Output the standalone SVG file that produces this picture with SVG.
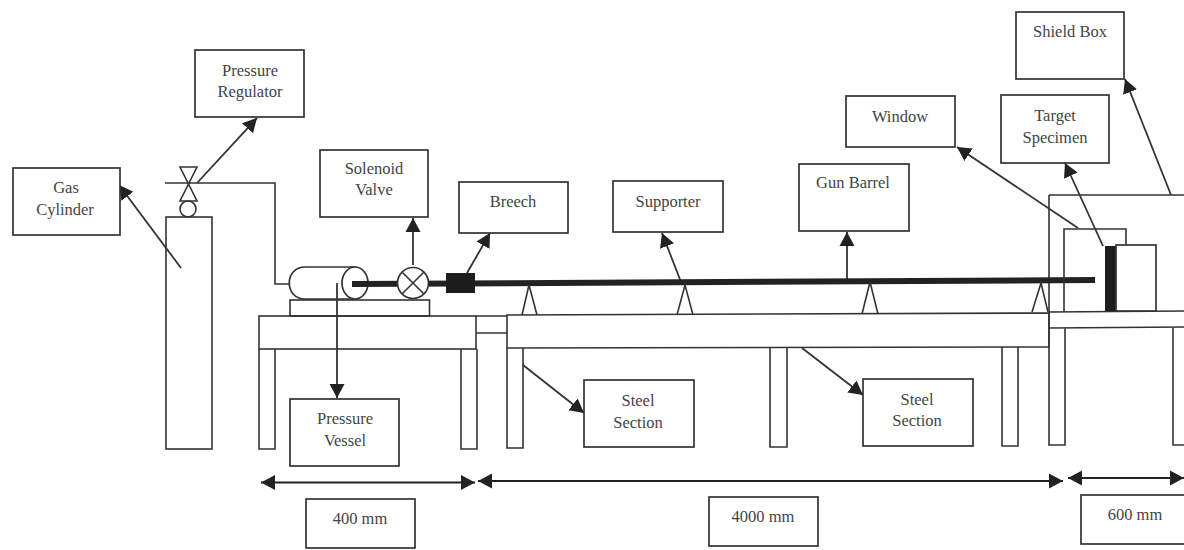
<svg xmlns="http://www.w3.org/2000/svg" width="1184" height="550" viewBox="0 0 1184 550">
<defs>
<marker id="a" markerUnits="userSpaceOnUse" markerWidth="15" markerHeight="16" refX="14" refY="8" orient="auto-start-reverse"><path d="M0 0.500L14 8L0 15.500Z" fill="#222"/></marker>
</defs>
<style>
.b{fill:#fff;stroke:#333;stroke-width:1.7}
.s{fill:none;stroke:#333;stroke-width:1.6}
.c{fill:none;stroke:#333;stroke-width:1.8}
.ar{marker-end:url(#a)}
.d{marker-start:url(#a);marker-end:url(#a);stroke:#222;stroke-width:2;fill:none}
text{font-family:"Liberation Serif",serif;font-size:16.500px;fill:#444;text-anchor:middle}
</style>
<rect width="1184" height="550" fill="#fff"/>
<g id="cylinder">
<rect class="s" x="166" y="217" width="46" height="232"/>
<circle class="s" cx="188" cy="209" r="8"/>
<path class="s" d="M180 167H197L180 201H197Z"/>
</g>
<g id="tables">
<rect class="s" x="259" y="316" width="217" height="33"/>
<path class="s" d="M259 349V449H275V349M461 349V449H477V349"/>
<path class="s" d="M476 316H507M476 333H507"/>
<path class="s" d="M507 315L1049 313V347L507 348Z"/>
<path class="s" d="M507 348V448H523V348M770 348V447H787V348M1002 347V446H1018V347"/>
<rect class="s" x="290" y="300" width="139.500" height="16"/>
<path class="s" d="M1049 312L1184 311M1049 328L1184 327M1049 195V445H1065V328M1173 327V445H1184M1049 195H1184"/>
</g>
<g id="vessel">
<path class="b" d="M355 267H305C284 267 284 299 305 299H355Z"/>
<ellipse class="b" cx="355" cy="283" rx="13" ry="16"/>
</g>
<g id="connectors">
<path class="s" d="M165 183H275V284H290"/>
<path class="c ar" d="M197 183L257 118"/>
<path class="c ar" d="M181 268L119 185"/>
<path class="c ar" d="M413 265V218"/>
<path class="c ar" d="M467 273L490 233"/>
<path class="c ar" d="M681 282L662 233"/>
<path class="c ar" d="M847 282V232"/>
<path class="c ar" d="M1078 228L957 147"/>
<path class="c ar" d="M1103 246L1065 163"/>
<path class="c ar" d="M1171 195L1125 79"/>
<path class="c ar" d="M337 283V398"/>
<path class="c ar" d="M523 365L584 413"/>
<path class="c ar" d="M802 348L863 395"/>
<path class="d" d="M261 482.500H475"/>
<path class="d" d="M478 481H1063"/>
<path class="d" d="M1068 478H1184"/>
</g>
<g id="barrel">
<path d="M352 284L1095 280" stroke="#222" stroke-width="6" fill="none"/>
<rect x="446" y="273" width="29" height="20" fill="#1d1d1d"/>
</g>
<g id="valve">
<circle class="b" cx="413" cy="283" r="15.500"/>
<path class="s" d="M402.500 272.500L423.500 293.500M423.500 272.500L402.500 293.500"/>
</g>
<g id="supports">
<path class="s" d="M522 315L529 285L537 315M677 315L685 285L693 315M862 314L870 282L878 314M1032 312L1041 283L1048 312"/>
</g>
<g id="shield">
<path class="s" d="M1064 312V229H1126V245"/>
<rect x="1105" y="246" width="11" height="65" fill="#1d1d1d"/>
<rect class="b" x="1116" y="245" width="40" height="66"/>
</g>
<g id="n1"><rect class="b" x="13" y="168" width="107" height="67"/><text x="66" y="193">Gas</text><text x="65" y="215">Cylinder</text></g>
<g id="n2"><rect class="b" x="195" y="50" width="109" height="67"/><text x="250" y="76">Pressure</text><text x="250" y="97">Regulator</text></g>
<g id="n3"><rect class="b" x="320" y="150" width="108" height="67"/><text x="374" y="174">Solenoid</text><text x="374" y="195">Valve</text></g>
<g id="n4"><rect class="b" x="459" y="182" width="109" height="51"/><text x="513" y="207">Breech</text></g>
<g id="n5"><rect class="b" x="613" y="181" width="110" height="51"/><text x="668" y="207">Supporter</text></g>
<g id="n6"><rect class="b" x="799" y="164" width="110" height="67"/><text x="853" y="188">Gun Barrel</text></g>
<g id="n7"><rect class="b" x="846" y="96" width="109" height="51"/><text x="900" y="122">Window</text></g>
<g id="n8"><rect class="b" x="1001" y="95" width="108" height="68"/><text x="1055" y="121">Target</text><text x="1055" y="143">Specimen</text></g>
<g id="n9"><rect class="b" x="1016" y="12" width="108" height="67"/><text x="1070" y="37">Shield Box</text></g>
<g id="n10"><rect class="b" x="290" y="399" width="109" height="67"/><text x="345" y="424">Pressure</text><text x="345" y="446">Vessel</text></g>
<g id="n11"><rect class="b" x="584" y="380" width="110" height="67"/><text x="638" y="406">Steel</text><text x="638" y="428">Section</text></g>
<g id="n12"><rect class="b" x="863" y="379" width="110" height="67"/><text x="917" y="405">Steel</text><text x="917" y="426">Section</text></g>
<g id="n13"><rect class="b" x="306" y="499" width="109" height="49"/><text x="360" y="524">400 mm</text></g>
<g id="n14"><rect class="b" x="709" y="497" width="109" height="49"/><text x="763" y="522">4000 mm</text></g>
<g id="n15"><rect class="b" x="1081" y="495" width="110" height="49"/><text x="1135" y="520">600 mm</text></g>
</svg>
